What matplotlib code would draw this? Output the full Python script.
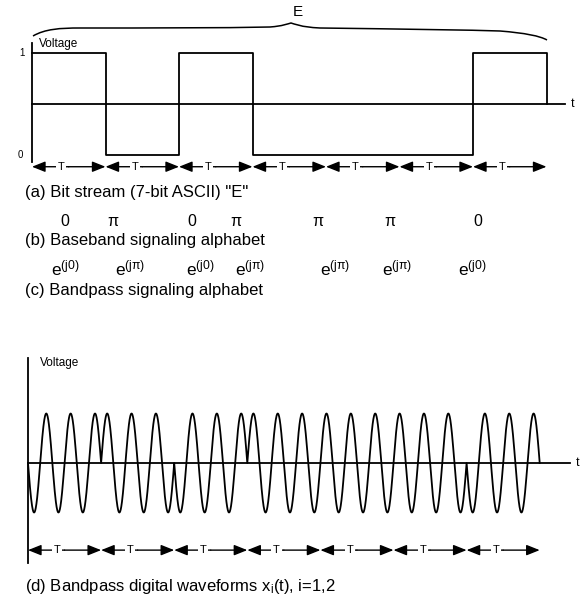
import numpy as np
import matplotlib
matplotlib.use("Agg")
import matplotlib.pyplot as plt
from matplotlib.patches import FancyArrowPatch, PathPatch
from matplotlib.path import Path

plt.rcParams['font.family'] = ['Liberation Sans', 'DejaVu Sans']
plt.rcParams['mathtext.fontset'] = 'custom'
plt.rcParams['mathtext.rm'] = 'Liberation Sans'
plt.rcParams['mathtext.it'] = 'Liberation Sans'

# ---------------- data ----------------
bits = [1, 0, 1, 0, 0, 0, 1]                      # 7-bit ASCII "E"
baseband_symbols = ['0', 'π', '0', 'π', 'π', 'π', '0']
bandpass_symbols = [r'$\mathrm{e}^{(j0)}$', r'$\mathrm{e}^{(j\pi)}$', r'$\mathrm{e}^{(j0)}$',
                    r'$\mathrm{e}^{(j\pi)}$', r'$\mathrm{e}^{(j\pi)}$', r'$\mathrm{e}^{(j\pi)}$',
                    r'$\mathrm{e}^{(j0)}$']
carrier_phase = [0.0, np.pi, 0.0, np.pi, np.pi, np.pi, 0.0]
cycles_per_bit = 3
level_labels = ['0', '1']
captions = ['(a) Bit stream (7-bit ASCII) "E"',
            '(b) Baseband signaling alphabet',
            '(c) Bandpass signaling alphabet',
            r'(d) Bandpass digital waveforms x$_\mathregular{i}$(t), i=1,2']

# layout (pixel positions of the alphabet symbols, as typeset in the original)
baseband_x = [65, 113, 192, 236, 318, 390, 478]
bandpass_x = [65, 130, 200, 250, 335, 397, 472]

W, H = 584, 605
fig = plt.figure(figsize=(W / 100, H / 100), dpi=100)
LW = 1.3


def make_axes(px_left, px_right, px_top, px_bot, x0_px, xscale, y0_px, yscale):
    ax = fig.add_axes([px_left / W, 1 - px_bot / H, (px_right - px_left) / W, (px_bot - px_top) / H])
    ax.set_xlim((px_left - x0_px) / xscale, (px_right - x0_px) / xscale)
    ax.set_ylim((y0_px - px_bot) / yscale, (y0_px - px_top) / yscale)
    ax.axis('off')
    ax.patch.set_visible(False)
    return ax


def t_arrows(ax, n, y):
    for k in range(n):
        for end in (k, k + 1):
            ax.add_patch(FancyArrowPatch((k + 0.5, y), (end, y),
                                         arrowstyle='-|>,head_length=0.8,head_width=0.32',
                                         mutation_scale=10, lw=1.0, color='black',
                                         shrinkA=0, shrinkB=0))
        ax.text(k + 0.4, y, 'T', ha='center', va='center', fontsize=8,
                bbox=dict(facecolor='white', edgecolor='none', pad=1.2))


# overlay in pixel coordinates for free text
ov = fig.add_axes([0, 0, 1, 1])
ov.set_xlim(0, W)
ov.set_ylim(H, 0)
ov.axis('off')
ov.patch.set_visible(False)

# ---------------- (a) bit stream ----------------
axa = make_axes(5, 584, 30, 185, x0_px=32, xscale=73.5, y0_px=155, yscale=102)
n = len(bits)
xs, ys = [0], [bits[0]]
for k, b in enumerate(bits):
    xs += [k, k + 1]
    ys += [b, b]
xs.append(n)
ys.append(0.5)
axa.plot(xs, ys, color='black', lw=LW)
axa.plot([0, 0], [-0.07, 1.1], color='black', lw=LW)
axa.plot([0, 7.25], [0.5, 0.5], color='black', lw=LW)
axa.text(7.36, 0.5, 't', ha='center', va='center', fontsize=9)
axa.text(-0.14, 1, level_labels[1], ha='center', va='center', fontsize=7)
axa.text(-0.16, 0, level_labels[0], ha='center', va='center', fontsize=7)
axa.text(0.1, 1.09, 'Voltage', ha='left', va='center', fontsize=8.5)
t_arrows(axa, n, -0.115)

# brace with "E"
verts = [(33, 36), (45, 29), (60, 28), (80, 28),
         (150, 28), (220, 28), (270, 27),
         (283, 26), (287, 24), (291, 23),
         (295, 24), (300, 27), (320, 28),
         (400, 29), (470, 30), (500, 31),
         (525, 33), (540, 36), (547, 40)]
codes = [Path.MOVETO] + [Path.CURVE4] * 18
ov.add_patch(PathPatch(Path(verts, codes), facecolor='none', edgecolor='black', lw=1.1))
ov.text(298, 12, 'E', ha='center', va='center', fontsize=11)

# ---------------- (b) and (c) alphabets ----------------
for k in range(n):
    ov.text(baseband_x[k], 222, baseband_symbols[k], ha='center', va='center', fontsize=11.5)
    ov.text(bandpass_x[k], 268, bandpass_symbols[k], ha='center', va='center', fontsize=12.5)

ov.text(25, 193, captions[0], ha='left', va='center', fontsize=12)
ov.text(25, 241, captions[1], ha='left', va='center', fontsize=12)
ov.text(25, 290, captions[2], ha='left', va='center', fontsize=12)
ov.text(25, 587, captions[3], ha='left', va='center', fontsize=12)

# ---------------- (d) bandpass waveform ----------------
axd = make_axes(5, 584, 345, 575, x0_px=28, xscale=73.1, y0_px=463, yscale=49.5)
t_all, v_all = [], []
for k in range(n):
    t = np.linspace(k, k + 1, 400)
    t_all.append(t)
    v_all.append(-np.sin(2 * np.pi * cycles_per_bit * t + carrier_phase[k]))
axd.plot(np.concatenate(t_all), np.concatenate(v_all), color='black', lw=LW)
axd.plot([0, 0], [-2.02, 2.12], color='black', lw=LW)
axd.plot([0, 7.41], [0, 0], color='black', lw=LW)
axd.text(7.52, 0, 't', ha='center', va='center', fontsize=9)
axd.text(0.17, 2.02, 'Voltage', ha='left', va='center', fontsize=8.5)
t_arrows(axd, n, -1.76)

fig.savefig('out.png', dpi=100, facecolor='white')
